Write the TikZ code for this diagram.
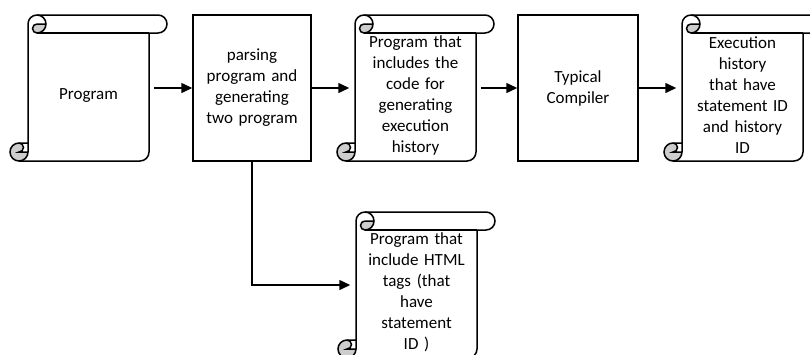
\documentclass[tikz,border=0pt]{standalone}
\usepackage{fontspec}
\setmainfont{Carlito}
\usetikzlibrary{arrows.meta}

\definecolor{rollgray}{RGB}{205,205,205}

% Pergamino alrededor del cuerpo (xl, yt, xr, yb)
\newcommand{\pergamino}[4]{%
  % rellenos grises de los rollos
  \fill[rollgray] (#1+2*\rad,#2-\rad) arc[start angle=0,end angle=-90,radius=\rad pt]
    arc[start angle=-90,end angle=-270,radius=\rin pt] -- cycle;
  \fill[rollgray] (#1,#4+\rad) arc[start angle=0,end angle=-270,radius=\rad pt]
    arc[start angle=90,end angle=-90,radius=\rin pt] -- cycle;
  % contorno
  \draw (#1,#4+2*\rad) -- (#1,#2-\rad) arc[start angle=180,end angle=90,radius=\rad pt]
    -- (#3+\rad,#2) arc[start angle=90,end angle=-90,radius=\rad pt]
    -- (#3,#2-2*\rad) -- (#3,#4+\rad) arc[start angle=0,end angle=-90,radius=\rad pt]
    -- (#1-\rad,#4) arc[start angle=-90,end angle=-270,radius=\rad pt] -- cycle;
  % rollo de arriba
  \draw (#1+\rad,#2) arc[start angle=90,end angle=-90,radius=\rad pt]
    arc[start angle=-90,end angle=-270,radius=\rin pt] -- (#1+2*\rad,#2-\rad);
  \draw (#3,#2-2*\rad) -- (#1+\rad,#2-2*\rad);
  % rollo de abajo
  \draw (#1-\rad,#4+2*\rad) arc[start angle=90,end angle=-90,radius=\rin pt] -- (#1,#4+\rad);
  \draw (#1-\rad,#4) arc[start angle=-90,end angle=0,radius=\rad pt] -- (#1,#4+2*\rad);
}

\begin{document}
\begin{tikzpicture}[x=1pt,y=1pt,line width=1.5pt,
    font=\fontsize{17}{21}\selectfont,
    procbox/.style={draw, minimum width=118pt, minimum height=146pt,
      text width=110pt, align=center, inner sep=0pt},
    scrollbox/.style={minimum width=121pt, minimum height=146pt,
      text width=112pt, align=center, inner sep=0pt,
      execute at begin node={\rule{0pt}{26pt}}},
    flecha/.style={-{Triangle[length=11pt,width=10pt]}}]
    % Parámetros
    \def\rad{9}    % radio del rollo
    \def\rin{4.5}  % radio interior

    \useasboundingbox (0,0) rectangle (810,-354);

    % Pergaminos
    \pergamino{28}{-15}{149}{-161}
    \pergamino{355}{-15}{476}{-161}
    \pergamino{682}{-15}{803}{-161}
    \pergamino{356}{-212}{477}{-358}

    % Nodos
    \node[scrollbox] (prog) at (88.5,-88) {Program};
    \node[procbox] (parse) at (252,-88) {parsing\\program and\\generating\\two program};
    \node[scrollbox] (instr) at (415.5,-88) {Program that\\includes the\\code for\\generating\\execution\\history};
    \node[procbox, minimum width=120pt] (compiler) at (578,-88) {Typical\\Compiler};
    \node[scrollbox] (hist) at (742.5,-88) {Execution\\history\\that have\\statement ID\\and history\\ID};
    \node[scrollbox] (html) at (416.5,-285) {Program that\\include HTML\\tags (that\\have\\statement\\ID )};

    % Flechas
    \draw[flecha, shorten <=4pt] (prog) -- (parse);
    \draw[flecha, shorten >=5pt] (parse) -- (instr);
    \draw[flecha, shorten <=4pt] (instr) -- (compiler);
    \draw[flecha, shorten >=5pt] (compiler) -- (hist);
    \draw[flecha, shorten >=5pt] (parse) |- (html);
\end{tikzpicture}
\end{document}
